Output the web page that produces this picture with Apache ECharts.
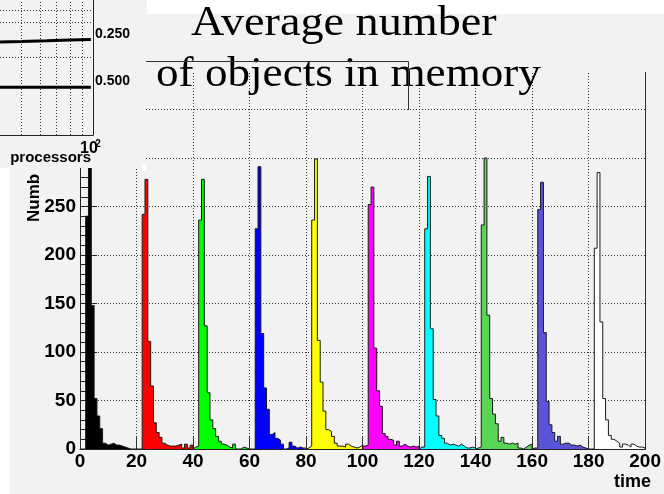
<!DOCTYPE html>
<html><head><meta charset="utf-8">
<script src="https://cdn.jsdelivr.net/npm/echarts@6/dist/echarts.min.js"></script>
<style>html,body{margin:0;padding:0;background:#fff;}#c{width:664px;height:494px;}</style>
</head><body><div id="c"></div>
<script>
// ---- main histogram data (bin width 1, 20 bins per run) ----
const runStarts = [0, 20, 40, 60, 80, 100, 120, 140, 160, 180];
const runColors = ['#000000', '#ff0000', '#00ff00', '#0000ff', '#ffff00', '#ff00ff', '#00ffff', '#59d454', '#5954d8', '#ffffff'];
const blackCounts   = [0, 0, 240, 370, 148, 52, 34, 21, 6, 4, 5, 6, 4, 4, 3, 2, 1, 0, 0, 0];
const redCounts     = [0, 0, 242, 278, 111, 65, 27, 17, 12, 6, 4, 3, 3, 3, 4, 5, 1, 5, 1, 4];
const greenCounts   = [2, 3, 236, 278, 127, 58, 30, 21, 13, 8, 5, 4, 2, 1, 5, 0, 0, 2, 1, 0];
const blueCounts    = [0, 0, 227, 291, 119, 63, 41, 15, 17, 11, 9, 5, 0, 1, 7, 3, 1, 2, 1, 1];
const yellowCounts  = [1, 3, 236, 299, 112, 69, 39, 20, 18, 13, 6, 3, 3, 2, 5, 3, 2, 1, 2, 4];
const magentaCounts = [3, 4, 252, 270, 104, 60, 44, 16, 13, 10, 9, 4, 8, 3, 5, 3, 2, 3, 2, 3];
const cyanCounts    = [2, 2, 227, 281, 124, 51, 34, 14, 11, 6, 4, 5, 4, 3, 5, 3, 1, 1, 2, 1];
const green2Counts  = [1, 2, 231, 300, 138, 52, 36, 26, 8, 12, 6, 5, 6, 5, 6, 1, 0, 2, 4, 5];
const slateCounts   = [1, 1, 247, 275, 120, 49, 25, 17, 8, 13, 5, 6, 6, 4, 4, 3, 4, 2, 1, 0];
const whiteCounts   = [0, 0, 207, 285, 131, 52, 30, 14, 10, 8, 6, 2, 5, 4, 2, 5, 3, 2, 2, 1];
const runCounts = [blackCounts, redCounts, greenCounts, blueCounts, yellowCounts, magentaCounts, cyanCounts, green2Counts, slateCounts, whiteCounts];

// ---- main axes ----
const xTicks = [0, 20, 40, 60, 80, 100, 120, 140, 160, 180, 200];
const yTicks = [0, 50, 100, 150, 200, 250];
const titleLines = ['Average number', 'of objects in memory'];
const xTitle = 'time';
const yTitle = 'Numb';

// ---- inset (processors, log x; y in arbitrary % units of the visible inset frame) ----
const insetProcessors = [40, 50, 64, 80, 98];
const insetCurveA = [68.9, 69.2, 69.8, 70.4, 70.7];
const insetCurveB = [35.3, 35.3, 35.3, 35.3, 35.3];
const insetLabels = ['0.250', '0.500'];
const insetXGrid = [50, 60, 70, 80, 90];
const insetYGrid = [57.3, 83.2, 92.6];

function stepData(start, counts) {
  const d = [[start, 0]];
  counts.forEach((v, i) => d.push([start + i, v]));
  d.push([start + counts.length, counts[counts.length - 1]]);
  d.push([start + counts.length, 0]);
  return d;
}

const series = runCounts.map((c, k) => ({
  type: 'line', xAxisIndex: 0, yAxisIndex: 0, step: 'end',
  data: stepData(runStarts[k], c), showSymbol: false, silent: true,
  lineStyle: { color: '#1a1a1a', width: 1 },
  areaStyle: { color: runColors[k], opacity: 1 }, z: 2
}));

const dotted = { type: [1, 2], color: '#333', width: 1 };
series.push({
  type: 'line', xAxisIndex: 1, yAxisIndex: 2, z: 30, silent: true, showSymbol: false,
  data: insetProcessors.map((p, i) => [p, insetCurveA[i]]),
  lineStyle: { color: '#000', width: 3 },
  markLine: { symbol: 'none', silent: true, label: { show: false }, lineStyle: dotted, z: 25,
    data: insetXGrid.map(v => ({ xAxis: v })).concat(insetYGrid.map(v => ({ yAxis: v }))) }
});
series.push({
  type: 'line', xAxisIndex: 1, yAxisIndex: 2, z: 30, silent: true, showSymbol: false,
  data: insetProcessors.map((p, i) => [p, insetCurveB[i]]),
  lineStyle: { color: '#000', width: 3 }
});

const lbl = { fontFamily: 'Liberation Sans', fontWeight: 'bold', fontSize: 19, color: '#000' };
const chart = echarts.init(document.getElementById('c'), null, { renderer: 'canvas', width: 664, height: 494 });
chart.setOption({
  animation: false,
  backgroundColor: '#f2f2f2',
  grid: [
    { left: 80, right: 13, top: 61, bottom: 45, show: false, z: 1 },
    { left: 0, right: 571, top: 0, bottom: 359, show: false, z: 20 }
  ],
  xAxis: [
    { type: 'value', gridIndex: 0, min: 0, max: 200, interval: 20,
      axisLine: { lineStyle: { color: '#222' } },
      axisTick: { inside: true, length: 13, lineStyle: { color: '#333' } },
      splitLine: { show: true, lineStyle: dotted },
      axisLabel: Object.assign({ margin: 3, formatter: v => xTicks.includes(v) ? String(v) : '' }, lbl) },
    { type: 'log', gridIndex: 1, min: 40.7, max: 100, logBase: 10, z: 20, position: 'bottom',
      axisLine: { show: true, lineStyle: { color: '#222', width: 1 } }, axisTick: { show: false }, axisLabel: { show: false }, splitLine: { show: false } }
  ],
  yAxis: [
    { type: 'value', gridIndex: 0, min: 0, max: 400, interval: 50,
      axisLine: { lineStyle: { color: '#222' } },
      axisTick: { inside: true, length: 17, lineStyle: { color: '#222' } },
      minorTick: { show: true, splitNumber: 5, length: 8.5, lineStyle: { color: '#222' } },
      splitLine: { show: true, lineStyle: dotted },
      axisLabel: Object.assign({ margin: 4, formatter: v => yTicks.includes(v) ? String(v) : '' }, lbl) },
    { type: 'value', gridIndex: 0, min: 0, max: 400, position: 'right',
      axisLine: { show: true, lineStyle: { color: '#333', width: 1 } }, axisTick: { show: false }, axisLabel: { show: false }, splitLine: { show: false } },
    { type: 'value', gridIndex: 1, min: 0, max: 100, z: 20, position: 'right',
      axisLine: { show: true, lineStyle: { color: '#222', width: 1 } }, axisTick: { show: false }, axisLabel: { show: false }, splitLine: { show: false } }
  ],
  series: series,
  graphic: { elements: [
    { type: 'rect', z: 0, shape: { x: 0, y: 168, width: 10, height: 326 }, style: { fill: '#fff' } },
    { type: 'rect', z: 0, shape: { x: 147, y: 0, width: 517, height: 14 }, style: { fill: '#fff' } },
    { type: 'rect', z: 3, shape: { x: 146, y: 55, width: 518, height: 17 }, style: { fill: '#f2f2f2' } },
    { type: 'rect', z: 10, shape: { x: 0, y: 0, width: 146, height: 168 }, style: { fill: '#f2f2f2' } },
    { type: 'rect', z: 11, shape: { x: 142, y: 164, width: 5, height: 7 }, style: { fill: '#fff' } },
    { type: 'text', z: 40, x: 95, y: 34, style: { text: insetLabels[0], font: 'bold 14px "Liberation Sans"', fill: '#000', verticalAlign: 'middle' } },
    { type: 'text', z: 40, x: 95, y: 81, style: { text: insetLabels[1], font: 'bold 14px "Liberation Sans"', fill: '#000', verticalAlign: 'middle' } },
    { type: 'text', z: 40, x: 89, y: 149, style: { text: '10', font: 'bold 16px "Liberation Sans"', fill: '#000', align: 'center', verticalAlign: 'middle' } },
    { type: 'text', z: 40, x: 98, y: 144, style: { text: '2', font: 'bold 10px "Liberation Sans"', fill: '#000', align: 'center', verticalAlign: 'middle' } },
    { type: 'text', z: 40, x: 91, y: 158, style: { text: 'processors', font: 'bold 15px "Liberation Sans"', fill: '#000', align: 'right', verticalAlign: 'middle' } },
    { type: 'text', z: 5, x: 191, y: 24, scaleX: 1.10, style: { text: titleLines[0], font: '42px "Liberation Serif"', fill: '#000', verticalAlign: 'middle' } },
    { type: 'text', z: 5, x: 156, y: 75, scaleX: 1.075, style: { text: titleLines[1], font: '42px "Liberation Serif"', fill: '#000', verticalAlign: 'middle' } },
    { type: 'polyline', z: 5, shape: { points: [[145, 61.5], [408.5, 61.5], [408.5, 110]] }, style: { stroke: '#333', fill: null, lineWidth: 1 } },
    { type: 'text', z: 5, x: 651, y: 482, style: { text: xTitle, font: 'bold 18px "Liberation Sans"', fill: '#000', align: 'right', verticalAlign: 'middle' } },
    { type: 'text', z: 5, x: 34, y: 222, rotation: Math.PI / 2, style: { text: yTitle, font: 'bold 17px "Liberation Sans"', fill: '#000', align: 'left', verticalAlign: 'middle' } }
  ] }
});
</script></body></html>
